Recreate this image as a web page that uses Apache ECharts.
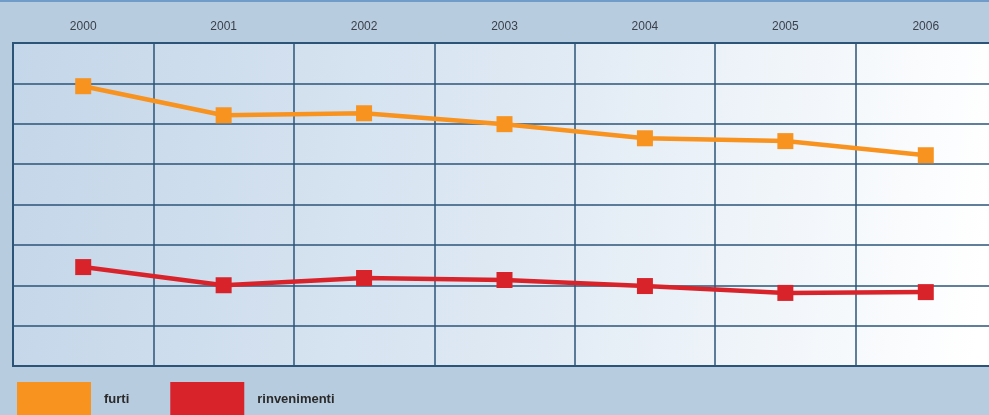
<!DOCTYPE html>
<html>
<head>
<meta charset="utf-8">
<script src="https://cdn.jsdelivr.net/npm/echarts@6/dist/echarts.min.js"></script>
<style>
    html, body { margin: 0; padding: 0; overflow: hidden; background: #b8cce0; }
    #chart { width: 1000px; height: 415px; }
</style>
</head>
<body>
<div id="chart"></div>
<script>
    // anni sull'asse x
    var anni = ['2000', '2001', '2002', '2003', '2004', '2005', '2006'];
    // valori (scala senza etichette, 0-8)
    var furti = [6.93, 6.21, 6.26, 5.99, 5.64, 5.57, 5.22];
    var rinvenimenti = [2.45, 2.0, 2.18, 2.13, 1.98, 1.81, 1.83];

    var chart = echarts.init(document.getElementById('chart'));

    var option = {
        backgroundColor: '#b8cce0',
        graphic: [{
            type: 'rect',
            shape: { x: 0, y: 0, width: 1000, height: 2 },
            style: { fill: '#6f9cc8' }
        }],
        legend: {
            left: 17,
            top: 382,
            padding: 0,
            itemWidth: 74,
            itemHeight: 34,
            itemGap: 41,
            icon: 'rect',
            textStyle: { fontSize: 13, fontWeight: 'bold', color: '#2a2a2a', padding: [0, 0, 0, 8] },
            data: ['furti', 'rinvenimenti']
        },
        grid: {
            left: 13,
            right: 4,
            top: 43,
            height: 323,
            show: true,
            borderColor: '#2c5478',
            borderWidth: 2,
            backgroundColor: {
                type: 'linear', x: 0, y: 0, x2: 1, y2: 0.3,
                colorStops: [
                    { offset: 0, color: '#c4d6e9' },
                    { offset: 0.5, color: '#dde8f3' },
                    { offset: 1, color: '#ffffff' }
                ]
            }
        },
        xAxis: {
            type: 'category',
            position: 'top',
            data: anni,
            boundaryGap: true,
            axisTick: { show: false },
            axisLine: { show: true, lineStyle: { color: '#2c5478', width: 2 } },
            axisLabel: { color: '#3a3f48', fontSize: 12, margin: 10 },
            splitLine: { show: true, lineStyle: { color: '#2c5478', width: 1.5 } }
        },
        yAxis: {
            type: 'value',
            min: 0,
            max: 8,
            interval: 1,
            axisLabel: { show: false },
            axisTick: { show: false },
            axisLine: { show: true, lineStyle: { color: '#2c5478', width: 2 } },
            splitLine: { show: true, lineStyle: { color: '#2c5478', width: 1.5 } }
        },
        series: [{
            name: 'furti',
            type: 'line',
            data: furti,
            symbol: 'rect',
            symbolSize: 16,
            color: '#f7931e',
            lineStyle: { width: 4.5, color: '#f7931e' },
            itemStyle: { color: '#f7931e' }
        }, {
            name: 'rinvenimenti',
            type: 'line',
            data: rinvenimenti,
            symbol: 'rect',
            symbolSize: 16,
            color: '#d8232a',
            lineStyle: { width: 4.5, color: '#d8232a' },
            itemStyle: { color: '#d8232a' }
        }]
    };

    chart.setOption(option);
</script>
</body>
</html>
